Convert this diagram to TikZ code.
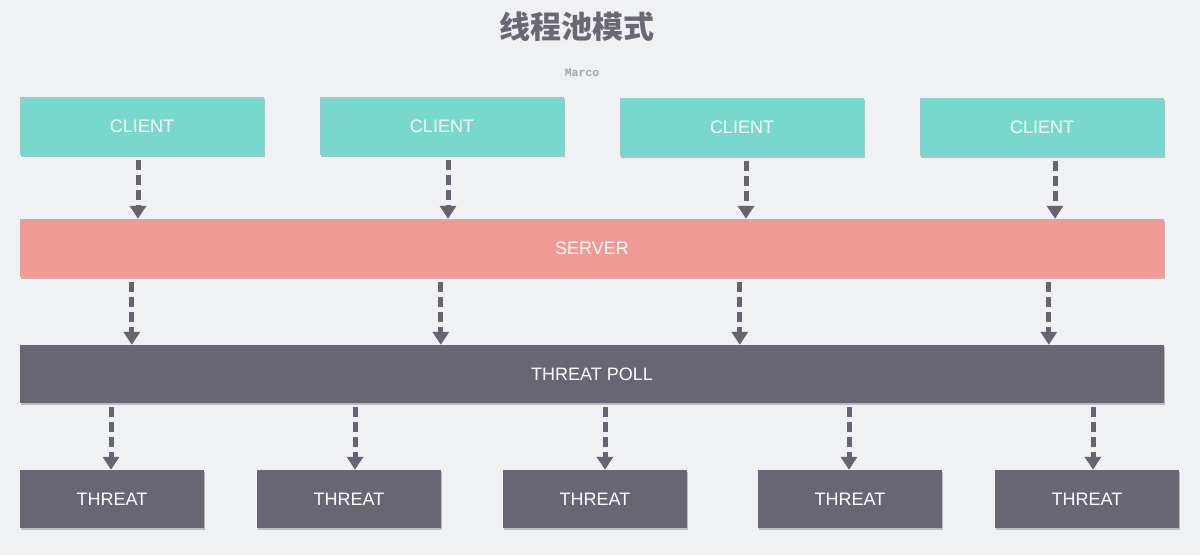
\documentclass[tikz,border=0pt]{standalone}
\usepackage{fontspec}
\setmainfont{Liberation Sans}
\newfontfamily\cjk{Noto Sans CJK SC}
\newfontfamily\monof{Liberation Mono}
\usetikzlibrary{arrows.meta,shadows}
\definecolor{bgc}{HTML}{F0F1F3}
\definecolor{clientc}{HTML}{79D8CD}
\definecolor{serverc}{HTML}{F19A94}
\definecolor{pollc}{HTML}{696673}
\definecolor{arrc}{HTML}{666470}
\definecolor{titlec}{HTML}{6A6872}
\definecolor{marcoc}{HTML}{A3A7AB}
\begin{document}
\begin{tikzpicture}[x=1pt,y=-1pt,
  box/.style={rectangle, inner sep=0pt, text=white, font=\fontsize{18}{20}\selectfont,
    drop shadow={shadow xshift=0.5pt, shadow yshift=-2pt, opacity=0.22, fill=black}},
  clientbox/.style={box, fill=clientc, minimum width=244pt, minimum height=58pt},
  wide/.style={box, minimum width=1144pt, minimum height=58pt},
  threatbox/.style={box, fill=pollc, minimum width=184pt, minimum height=58pt},
  arr/.style={draw=arrc, line width=5pt, dash pattern=on 10pt off 5pt,
    -{Triangle[width=16pt,length=13pt,fill=arrc]}}
]
\path[fill=bgc] (0,0) rectangle (1200,555);
\node[font=\cjk\bfseries\fontsize{31}{34}\selectfont, text=titlec] (title) at (577,27) {线程池模式};
\node[font=\monof\bfseries\fontsize{11.5}{13}\selectfont, text=marcoc] (marco) at (582,73) {Marco};

\node[clientbox] (c1) at (142,126) {CLIENT};
\node[clientbox] (c2) at (442,126) {CLIENT};
\node[clientbox] (c3) at (742,127) {CLIENT};
\node[clientbox] (c4) at (1042,127) {CLIENT};

\node[wide, fill=serverc] (srv) at (592,248) {SERVER};
\node[wide, fill=pollc] (poll) at (592,374) {THREAT POLL};

\node[threatbox] (t1) at (112,499) {THREAT};
\node[threatbox] (t2) at (349,499) {THREAT};
\node[threatbox] (t3) at (595,499) {THREAT};
\node[threatbox] (t4) at (850,499) {THREAT};
\node[threatbox] (t5) at (1087,499) {THREAT};

% client -> server
\draw[arr] ([xshift=-4pt,yshift=-5pt]c1.south) -- ([xshift=-4pt]c1.south |- srv.north);
\draw[arr] ([xshift=6pt,yshift=-5pt]c2.south) -- ([xshift=6pt]c2.south |- srv.north);
\draw[arr] ([xshift=4pt,yshift=-5pt]c3.south) -- ([xshift=4pt]c3.south |- srv.north);
\draw[arr] ([xshift=13pt,yshift=-5pt]c4.south) -- ([xshift=13pt]c4.south |- srv.north);

% server -> poll
\foreach \dx in {112,421,720,1029}{
  \draw[arr] ([xshift=\dx pt,yshift=-5pt]srv.south west) -- ([xshift=\dx pt]srv.south west |- poll.north);
}

% poll -> threats
\draw[arr] ([xshift=-1pt,yshift=-4pt]t1.north |- poll.south) -- ([xshift=-1pt]t1.north);
\draw[arr] ([xshift=6pt,yshift=-4pt]t2.north |- poll.south) -- ([xshift=6pt]t2.north);
\draw[arr] ([xshift=10pt,yshift=-4pt]t3.north |- poll.south) -- ([xshift=10pt]t3.north);
\draw[arr] ([xshift=-1pt,yshift=-4pt]t4.north |- poll.south) -- ([xshift=-1pt]t4.north);
\draw[arr] ([xshift=6pt,yshift=-4pt]t5.north |- poll.south) -- ([xshift=6pt]t5.north);
\end{tikzpicture}
\end{document}
